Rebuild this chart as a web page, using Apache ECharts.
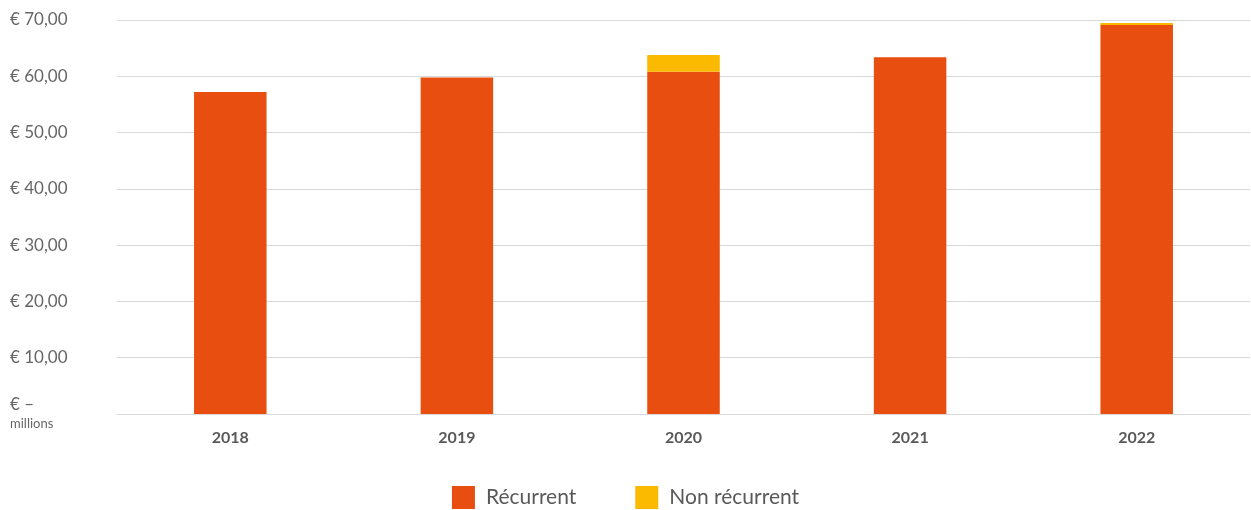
<!DOCTYPE html>
<html>
<head>
<meta charset="utf-8">
<script src="https://cdn.jsdelivr.net/npm/echarts@6/dist/echarts.min.js"></script>
<style>html,body{margin:0;padding:0;background:#fff}#c{width:1251px;height:510px}</style>
</head>
<body>
<div id="c"></div>
<script>
const categories = ['2018', '2019', '2020', '2021', '2022'];
const recurrent = [57.2, 59.8, 60.8, 63.4, 69.1];
const nonRecurrent = [0, 0, 3.0, 0, 0.35];
const seriesNames = ['Récurrent', 'Non récurrent'];
const yTicks = [0, 10, 20, 30, 40, 50, 60, 70];

const chart = echarts.init(document.getElementById('c'), null, {renderer: 'canvas'});
const fmt = v => v === 0 ? '{a|€ –}\n{b|millions}' : '€ ' + v.toFixed(2).replace('.', ',');
chart.setOption({
  animation: false,
  textStyle: {fontFamily: 'Lato, "Noto Sans", sans-serif'},
  grid: {left: 117, right: 1, top: 20, bottom: 96},
  legend: {
    data: seriesNames,
    top: 486,
    left: 'center',
    padding: 0,
    itemWidth: 23, itemHeight: 23, itemGap: 59,
    icon: 'rect',
    textStyle: {fontSize: 21, color: '#595959', fontFamily: 'Lato, sans-serif', padding: [0, 0, 0, 6]}
  },
  xAxis: {
    type: 'category',
    data: categories,
    axisTick: {show: false},
    axisLine: {lineStyle: {color: '#d9d9d9', width: 1}},
    axisLabel: {fontSize: 16, fontWeight: 'bold', color: '#595959', margin: 16}
  },
  yAxis: {
    type: 'value',
    min: 0, max: 70, interval: 10,
    axisLine: {show: false},
    axisTick: {show: false},
    splitLine: {lineStyle: {color: '#d9d9d9', width: 1}},
    axisLabel: {
      align: 'left', margin: 107, fontSize: 17, color: '#666',
      formatter: fmt,
      rich: {
        a: {fontSize: 17, color: '#666', lineHeight: 20, fontFamily: 'Lato, sans-serif'},
        b: {fontSize: 13, color: '#666', lineHeight: 18, fontFamily: 'Lato, sans-serif'}
      }
    }
  },
  series: [
    {name: seriesNames[0], type: 'bar', stack: 't', data: recurrent, barWidth: '32%', itemStyle: {color: '#E84E0F'}},
    {name: seriesNames[1], type: 'bar', stack: 't', data: nonRecurrent, barWidth: '32%', itemStyle: {color: '#FBB900'}}
  ]
});
</script>
</body>
</html>
